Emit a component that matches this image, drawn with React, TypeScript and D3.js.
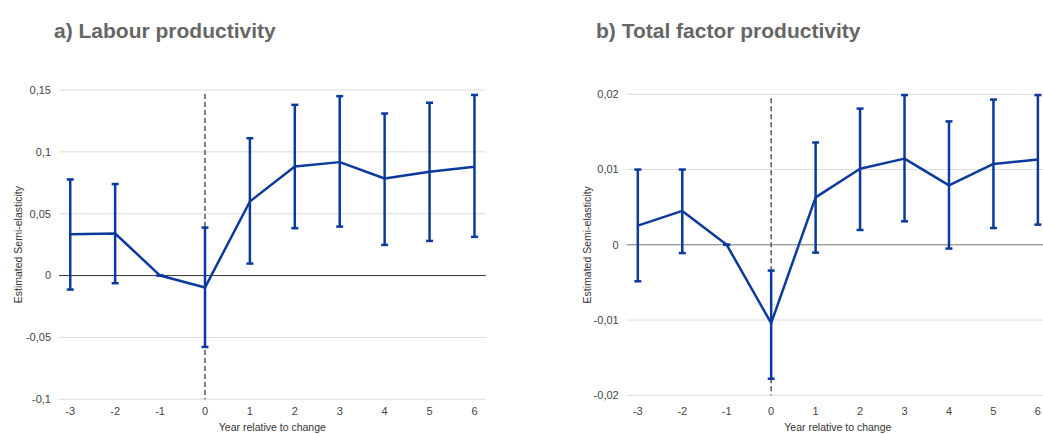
import React from "react";
import * as d3 from "d3";

const years = [-3, -2, -1, 0, 1, 2, 3, 4, 5, 6];

const labourEst = [0.0335, 0.034, 0, -0.0097, 0.0599, 0.0882, 0.0917, 0.0785, 0.0839, 0.088];
const labourLo = [-0.0113, -0.0062, 0, -0.0577, 0.0097, 0.0383, 0.0396, 0.0248, 0.028, 0.0313];
const labourHi = [0.0777, 0.074, 0, 0.0388, 0.111, 0.138, 0.145, 0.131, 0.1397, 0.146];
const labourTicks = [-0.1, -0.05, 0, 0.05, 0.1, 0.15];
const labourTickLabels = ["-0,1", "-0,05", "0", "0,05", "0,1", "0,15"];

const tfpEst = [0.00255, 0.0045, 0, -0.0104, 0.0063, 0.0101, 0.01145, 0.0079, 0.01074, 0.01132];
const tfpLo = [-0.00485, -0.0011, 0, -0.0178, -0.00104, 0.00197, 0.00312, -0.0005, 0.00223, 0.00268];
const tfpHi = [0.01, 0.01, 0, -0.00343, 0.0136, 0.0181, 0.0199, 0.0164, 0.0193, 0.0199];
const tfpTicks = [-0.02, -0.01, 0, 0.01, 0.02];
const tfpTickLabels = ["-0,02", "-0,01", "0", "0,01", "0,02"];

const FONT = "'Liberation Sans', Arial, sans-serif";
const BLUE = "#0b3a9e";

type PanelProps = {
  title: string;
  titleX: number;
  left: number;
  right: number;
  top: number;
  bottom: number;
  domain: [number, number];
  ticks: number[];
  tickLabels: string[];
  est: number[];
  lo: number[];
  hi: number[];
  zeroColor: string;
  yTitleX: number;
};

function Panel(p: PanelProps) {
  const x = d3.scalePoint<number>().domain(years).range([p.left, p.right]).padding(0.25);
  const y = d3.scaleLinear().domain(p.domain).range([p.bottom, p.top]);
  const line = d3
    .line<number>()
    .x((_, i) => x(years[i])!)
    .y((d) => y(d));
  const cx = (p.left + p.right) / 2;
  const cy = (p.top + p.bottom) / 2;
  return (
    <g>
      <text x={p.titleX} y={38} fontFamily={FONT} fontWeight="bold" fontSize={21} fill="#666">
        {p.title}
      </text>
      {p.ticks.map((t, i) => (
        <g key={i}>
          {t !== 0 && (
            <line x1={p.left} x2={p.right} y1={y(t)} y2={y(t)} stroke="#dcdcdc" strokeWidth={1} />
          )}
          <text
            x={p.left - 8}
            y={y(t)}
            dy="0.35em"
            textAnchor="end"
            fontFamily={FONT}
            fontSize={11}
            fill="#444"
          >
            {p.tickLabels[i]}
          </text>
        </g>
      ))}
      <line x1={p.left} x2={p.right} y1={y(0)} y2={y(0)} stroke={p.zeroColor} strokeWidth={1} />
      {years.map((yr) => (
        <text
          key={yr}
          x={x(yr)}
          y={415}
          textAnchor="middle"
          fontFamily={FONT}
          fontSize={11}
          fill="#444"
        >
          {yr}
        </text>
      ))}
      <text x={cx} y={431} textAnchor="middle" fontFamily={FONT} fontSize={10.5} fill="#333">
        Year relative to change
      </text>
      <text
        transform={`translate(${p.yTitleX},${cy}) rotate(-90)`}
        textAnchor="middle"
        dy="0.35em"
        fontFamily={FONT}
        fontSize={10.5}
        fill="#333"
      >
        Estimated Semi-elasticity
      </text>
      <line
        x1={x(0)}
        x2={x(0)}
        y1={p.top + 4}
        y2={p.bottom}
        stroke="#555"
        strokeWidth={1.5}
        strokeDasharray="5,3"
      />
      <path d={line(p.est) || ""} fill="none" stroke={BLUE} strokeWidth={2.5} strokeLinejoin="round" />
      {years.map((yr, i) => {
        const xx = x(yr)!;
        return (
          <g key={yr} stroke={BLUE} strokeWidth={2.5}>
            <line x1={xx} x2={xx} y1={y(p.lo[i])} y2={y(p.hi[i])} />
            <line x1={xx - 3.5} x2={xx + 3.5} y1={y(p.lo[i])} y2={y(p.lo[i])} />
            <line x1={xx - 3.5} x2={xx + 3.5} y1={y(p.hi[i])} y2={y(p.hi[i])} />
          </g>
        );
      })}
    </g>
  );
}

export default function App() {
  return (
    <svg
      width={1043}
      height={434}
      style={{ position: "fixed", left: 0, top: 0, background: "#fff" }}
    >
      <rect width={1043} height={434} fill="#fff" />
      <Panel
        title="a) Labour productivity"
        titleX={54}
        left={59}
        right={485.7}
        top={90}
        bottom={399.3}
        domain={[-0.1, 0.15]}
        ticks={labourTicks}
        tickLabels={labourTickLabels}
        est={labourEst}
        lo={labourLo}
        hi={labourHi}
        zeroColor="#333"
        yTitleX={18}
      />
      <Panel
        title="b) Total factor productivity"
        titleX={596}
        left={626.7}
        right={1049}
        top={94.3}
        bottom={395.3}
        domain={[-0.02, 0.02]}
        ticks={tfpTicks}
        tickLabels={tfpTickLabels}
        est={tfpEst}
        lo={tfpLo}
        hi={tfpHi}
        zeroColor="#777"
        yTitleX={587}
      />
    </svg>
  );
}
